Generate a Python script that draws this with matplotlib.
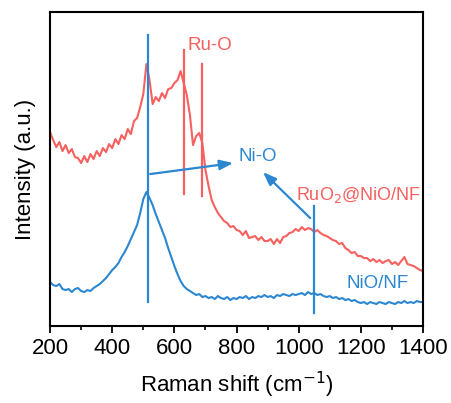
import matplotlib
matplotlib.use('Agg')
import matplotlib.pyplot as plt
import numpy as np

plt.rcParams['font.family'] = ['Liberation Sans', 'DejaVu Sans']

# Raman shift (cm-1), 10 cm-1 steps
shift = np.arange(200, 1410, 10)

# RuO2@NiO/NF, intensity in arbitrary units (read by eye)
ruo2_nio = [194, 186, 179, 184, 175, 181, 173, 177, 169, 168,
            163, 170, 164, 172, 167, 175, 170, 178, 174, 182,
            178, 187, 182, 191, 187, 197, 192, 205, 208, 219,
            232, 262, 246, 222, 229, 225, 233, 228, 237, 238,
            243, 246, 255, 243, 231, 211, 181, 190, 193, 183,
            156, 140, 126, 119, 113, 109, 105, 103, 99, 100,
            96, 95, 91, 95, 88, 89, 90, 86, 89, 85,
            85, 87, 82, 87, 83, 89, 90, 93, 94, 97,
            95, 99, 96, 98, 97, 94, 96, 93, 91, 90,
            88, 86, 85, 82, 83, 78, 76, 73, 74, 70,
            70, 68, 68, 65, 67, 64, 66, 63, 65, 66,
            62, 64, 61, 65, 69, 62, 61, 60, 58, 56, 55]

# NiO/NF
nio = [44, 41, 40, 42, 37, 36, 37, 34, 37, 38,
       35, 34, 36, 35, 38, 40, 42, 45, 48, 52,
       56, 59, 63, 69, 74, 80, 87, 94, 101, 113,
       127, 134, 128, 121, 112, 104, 96, 88, 78, 69,
       60, 52, 45, 40, 37, 35, 33, 31, 32, 29,
       30, 28, 29, 27, 30, 28, 27, 29, 26, 28,
       27, 29, 28, 30, 27, 29, 28, 30, 29, 31,
       29, 30, 28, 31, 30, 32, 31, 30, 32, 31,
       32, 33, 31, 34, 32, 33, 31, 32, 30, 29,
       30, 28, 29, 27, 28, 26, 27, 25, 26, 24,
       23, 24, 22, 24, 23, 22, 24, 23, 22, 24,
       23, 22, 24, 23, 25, 23, 24, 23, 25, 24, 24]

# peak markers: (position, y bottom, y top)
nio_marks = [(514, 24, 291), (1048, 13, 120)]
ruo_marks = [(630, 132, 276), (690, 130, 262)]

red = '#f6605e'
blue = '#2b87d1'

fig = plt.figure(figsize=(4.51, 4.03), dpi=100)
ax = fig.add_axes([0.111, 0.191, 0.827, 0.779])

ax.plot(shift, ruo2_nio, color=red, lw=1.5)
ax.plot(shift, nio, color=blue, lw=1.5)

for x, y0, y1 in nio_marks:
    ax.plot([x, x], [y0, y1], color=blue, lw=1.6)
for x, y0, y1 in ruo_marks:
    ax.plot([x, x], [y0, y1], color=red, lw=1.6)

arrow = dict(arrowstyle='-|>,head_length=0.8,head_width=0.3', color=blue, lw=1.6,
             shrinkA=0, shrinkB=0)
ax.annotate('', xy=(789, 163), xytext=(522, 152), arrowprops=arrow)
ax.annotate('', xy=(885, 154), xytext=(1037, 108), arrowprops=arrow)

ax.text(641, 281, 'Ru-O', color=red, fontsize=13.5, va='center')
ax.text(805, 170, 'Ni-O', color=blue, fontsize=13.5, va='center')
ax.text(990, 131, 'RuO$_2$@NiO/NF', color=red, fontsize=13, va='center')
ax.text(1154, 43, 'NiO/NF', color=blue, fontsize=13.5, va='center')

ax.set_xlim(200, 1400)
ax.set_ylim(0, 314)
ax.set_xticks(range(200, 1401, 200))
ax.set_xticks(range(300, 1400, 200), minor=True)
ax.set_yticks([])
ax.tick_params(axis='x', which='major', direction='out', length=5, width=1.3,
               labelsize=16)
ax.tick_params(axis='x', which='minor', direction='out', length=3, width=1.2)
for s in ax.spines.values():
    s.set_linewidth(1.5)

ax.set_xlabel('Raman shift (cm$^{-1}$)', fontsize=16, labelpad=8)
ax.set_ylabel('Intensity (a.u.)', fontsize=16, labelpad=10)

fig.savefig('out.png', dpi=100)
